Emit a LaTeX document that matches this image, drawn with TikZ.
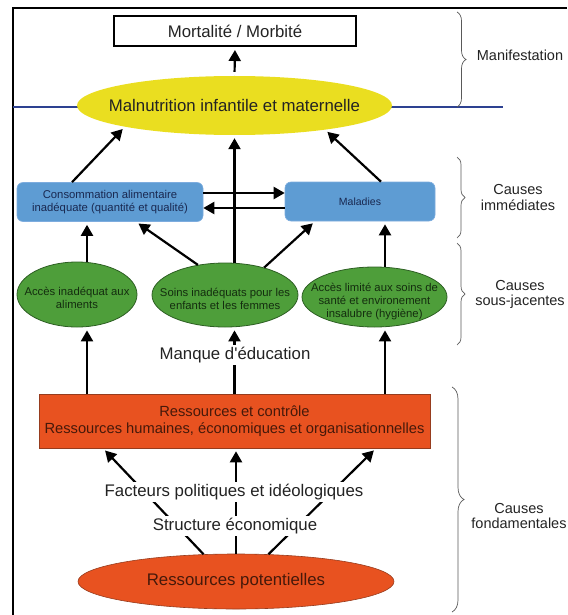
\documentclass[tikz,border=0pt]{standalone}
\usepackage{fontspec}
\setmainfont{Liberation Sans}
\usetikzlibrary{shapes.geometric,arrows.meta,decorations.pathreplacing}

\definecolor{jaune}{RGB}{234,222,32}
\definecolor{bleu}{RGB}{94,156,211}
\definecolor{bleubord}{RGB}{125,172,222}
\definecolor{bleutexte}{RGB}{25,40,80}
\definecolor{vert}{RGB}{78,158,58}
\definecolor{vertbord}{RGB}{45,95,35}
\definecolor{verttexte}{RGB}{20,45,15}
\definecolor{rouge}{RGB}{232,82,32}
\definecolor{rougebord}{RGB}{150,60,30}
\definecolor{rougetexte}{RGB}{70,25,10}
\definecolor{ligne}{RGB}{45,65,145}
\definecolor{texte}{RGB}{35,35,35}

% texte sans largeur ni hauteur, pour garder la taille des ellipses
\newcommand{\serre}[1]{\raisebox{-8pt}[0pt][0pt]{\makebox[0pt]{\begin{tabular}{@{}c@{}}#1\end{tabular}}}}

\tikzset{
  grand/.style={font=\fontsize{16.8}{19}\selectfont},
  moyen/.style={font=\fontsize{14.7}{16.5}\selectfont},
  petit/.style={font=\fontsize{11.3}{13}\selectfont},
  fleche/.style={line width=2.2pt,-{Triangle[length=11pt,width=12pt]},shorten >=3pt},
  bleubox/.style={rectangle,rounded corners=6pt,fill=bleu,draw=bleubord,line width=0.6pt,
    text=bleutexte,petit,align=center,minimum height=39pt,inner sep=0pt},
  vertell/.style={ellipse,fill=vert,draw=vertbord,line width=0.8pt,text=verttexte,petit,inner sep=0pt},
  rougebox/.style={fill=rouge,draw=rougebord,line width=0.6pt,text=rougetexte},
  etiquette/.style={fill=white,inner sep=2.5pt,grand,text=texte},
  niveau/.style={align=center,text=texte,font=\fontsize{14.5}{15.5}\selectfont},
  accolade/.style={decorate,decoration={brace,amplitude=#1},draw=black!65,line width=0.7pt}
}

\begin{document}
\begin{tikzpicture}[x=1pt,y=-1pt]
\useasboundingbox (0,0) rectangle (567,615);

% cadre et ligne bleue
\draw[line width=2.6pt] (13,615) -- (13,8) -- (567,8);
\draw[ligne,line width=2pt] (13,107) -- (503,107);

% noeuds
\node[draw,line width=2pt,minimum width=242pt,minimum height=30pt,inner sep=0pt,grand,text=texte]
	(mort) at (235,31) {Mortalité / Morbité};
\node[ellipse,fill=jaune,minimum width=315pt,minimum height=59pt,inner sep=0pt,grand,text=texte]
	(malnut) at (234.5,105.5) {\makebox[0pt]{Malnutrition infantile et maternelle}};

\node[bleubox,minimum width=186pt]
	(conso) at (110,202) {Consommation alimentaire\\inadéquate (quantité et qualité)};
\node[bleubox,minimum width=150pt,font=\fontsize{10.5}{12}\selectfont]
	(maladies) at (360,201.5) {Maladies};

\node[vertell,minimum width=120pt,minimum height=65pt]
	(acces) at (77,294.5) {\serre{Accès inadéquat aux\\aliments}};
\node[vertell,minimum width=146pt,minimum height=64pt]
	(soins) at (225,295) {\serre{Soins inadéquats pour les\\enfants et les femmes}};
\node[vertell,minimum width=145pt,minimum height=60pt]
	(sante) at (374.5,297) {\serre{Accès limité aux soins de\\santé et environement\\insalubre (hygiène)}};

\node[rougebox,rectangle,minimum width=391pt,minimum height=54pt,inner sep=0pt,moyen,align=center]
	(ressctrl) at (234.5,421) {Ressources et contrôle\\Ressources humaines, économiques et organisationnelles};
\node[rougebox,ellipse,minimum width=316pt,minimum height=55pt,grand]
	(potentiel) at (236,581.5) {Ressources potentielles};

\coordinate (colG) at (87,0);
\coordinate (colD) at (385,0);

% fleches
\draw[fleche,shorten <=4pt] (malnut.north) -- (mort.south);

\draw[fleche] ([xshift=-38pt]conso.north) -- (malnut.191);
\draw[fleche] (soins.north -| malnut.south) -- (malnut.south);
\draw[fleche] ([xshift=21pt]maladies.north) -- (malnut.345);

\draw[fleche,shorten >=0pt] ([yshift=9pt]conso.east) -- ([yshift=9pt]conso.east -| maladies.west);
\draw[fleche,shorten >=0pt] ([yshift=-6.5pt]maladies.west) -- ([yshift=-6.5pt]maladies.west -| conso.east);

\draw[fleche] (acces.north -| colG) -- (conso.south -| colG);
\draw[fleche] (soins.132) -- ([xshift=26pt]conso.south);
\draw[fleche] (soins.35) -- ([xshift=-45pt]maladies.south);
\draw[fleche] (sante.north -| colD) -- (maladies.south -| colD);

\draw[fleche] (ressctrl.north -| colG) -- (acces.south -| colG);
\draw[fleche] (ressctrl.north) -- (soins.south -| ressctrl.north);
\draw[fleche] (ressctrl.north -| colD) -- (sante.south -| colD);

\draw[fleche] (potentiel.140) -- ([xshift=-131.5pt]ressctrl.south);
\draw[fleche] (potentiel.north) -- (potentiel.north |- ressctrl.south);
\draw[fleche] (potentiel.40) -- ([xshift=141.5pt]ressctrl.south);

% textes poses sur les fleches
\node[etiquette] (manque) at (235,355) {Manque d\textquotesingle éducation};
\node[etiquette] (facteurs) at (234,492) {Facteurs politiques et idéologiques};
\node[etiquette] (structure) at (235,526) {Structure économique};

% accolades et niveaux
\draw[accolade=9pt] (457,12) -- (457,107);
\draw[accolade=8pt] (457,157) -- (457,238);
\draw[accolade=8pt] (457,243) -- (457,345);
\draw[accolade=12pt] (452,387) -- (452,612);

\node[niveau] (manif) at (520,55) {Manifestation};
\node[niveau] (immed) at (518,197.5) {Causes\\immédiates};
\node[niveau] (sousj) at (520,294.5) {Causes\\sous-jacentes};
\node[niveau] (fond) at (519,516) {Causes\\fondamentales};
\end{tikzpicture}
\end{document}
